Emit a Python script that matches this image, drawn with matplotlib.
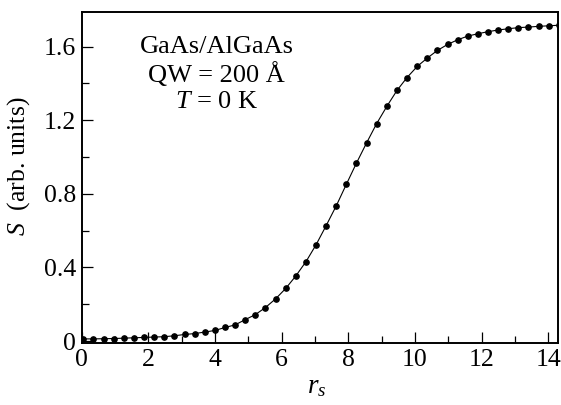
import matplotlib
matplotlib.use('Agg')
import matplotlib.pyplot as plt
from matplotlib.ticker import MultipleLocator

plt.rcParams['font.family'] = ['Liberation Serif', 'DejaVu Serif']
plt.rcParams['mathtext.fontset'] = 'custom'
plt.rcParams['mathtext.rm'] = 'Liberation Serif'
plt.rcParams['mathtext.it'] = 'Liberation Serif:italic'

# r_s values of the computed points
r_s = [0.05, 0.35, 0.66, 0.96, 1.26, 1.57, 1.87, 2.17, 2.48, 2.78,
       3.09, 3.39, 3.69, 4.00, 4.30, 4.60, 4.91, 5.21, 5.51, 5.82,
       6.12, 6.42, 6.73, 7.03, 7.33, 7.64, 7.94, 8.24, 8.55, 8.85,
       9.16, 9.46, 9.76, 10.07, 10.37, 10.67, 10.98, 11.28, 11.58, 11.89,
       12.19, 12.49, 12.80, 13.10, 13.40, 13.71, 14.01, 14.31]

# S (arb. units)
S = [0.012, 0.012, 0.013, 0.014, 0.016, 0.018, 0.020, 0.022, 0.024, 0.029,
     0.036, 0.041, 0.049, 0.058, 0.074, 0.088, 0.117, 0.144, 0.182, 0.230,
     0.286, 0.353, 0.432, 0.523, 0.626, 0.736, 0.852, 0.966, 1.078, 1.182,
     1.277, 1.362, 1.432, 1.493, 1.538, 1.579, 1.612, 1.637, 1.657, 1.670,
     1.681, 1.690, 1.697, 1.703, 1.706, 1.710, 1.713, 1.716]

fig = plt.figure(figsize=(5.61, 4.05), dpi=100)
ax = fig.add_axes([0.1456, 0.1523, 0.8485, 0.8181])

ax.plot(r_s, S, color='black', lw=0.8, marker='o', ms=3.8, mfc='black', mec='black')

ax.set_xlim(0, 14.28)
ax.set_ylim(-0.012, 1.788)

ax.xaxis.set_major_locator(MultipleLocator(2))
ax.xaxis.set_minor_locator(MultipleLocator(1))
ax.yaxis.set_major_locator(MultipleLocator(0.4))
ax.yaxis.set_minor_locator(MultipleLocator(0.2))
ax.yaxis.set_major_formatter(plt.FuncFormatter(lambda v, p: '0' if abs(v) < 1e-9 else f'{v:.1f}'))

ax.tick_params(which='both', direction='in', width=0.9, labelsize=18.5)
ax.tick_params(which='major', length=8, pad=4)
ax.tick_params(which='minor', length=5)
for sp in ax.spines.values():
    sp.set_linewidth(1.4)

ax.set_xlabel('$r_s$', fontsize=19.5)
ax.xaxis.set_label_coords(0.494, -0.093)
ax.set_ylabel('$S$  (arb. units)', fontsize=18.5)
ax.yaxis.set_label_coords(-0.104, 0.535)

ax.text(0.284, 0.893, 'GaAs/AlGaAs', transform=ax.transAxes, ha='center', va='center', fontsize=19)
ax.text(0.284, 0.81, 'QW = 200 Å', transform=ax.transAxes, ha='center', va='center', fontsize=19)
ax.text(0.284, 0.727, '$T$ = 0 K', transform=ax.transAxes, ha='center', va='center', fontsize=19)

fig.savefig('out.png', dpi=100)
